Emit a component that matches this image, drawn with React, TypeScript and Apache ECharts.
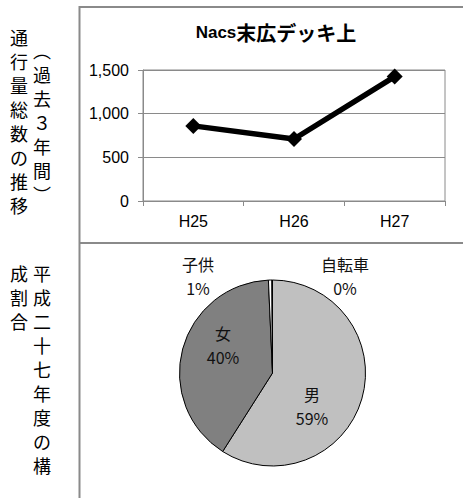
import React, { useEffect, useRef } from "react";
import * as echarts from "echarts";

// ---- data ----
const years = ["H25", "H26", "H27"];
const traffic = [860, 710, 1425];
const yMin = 0;
const yMax = 1500;
const yStep = 500;

const titleLatin = "Nacs";
const titleCjk = "末広デッキ上";

const pieNames = ["男", "女", "子供", "自転車"];
const pieShares = [59.0, 40.3, 0.6, 0.1];

const sideTopLeft = "通行量総数の推移";
const sideTopRight = "︵過去３年間︶";
const sideBottomLeft = "成割合";
const sideBottomRight = "平成二十七年度の構";

// ---- styling / layout ----
const CJK = "'Noto Sans CJK JP', 'Noto Sans', sans-serif";
const LATIN = "'Liberation Sans', Arial, 'Noto Sans CJK JP', sans-serif";
const frameColor = "#8a8a8a";
const pieColors = ["#c0c0c0", "#808080", "#ffffff", "#e0e0e0"];
const pieLabelPos: Record<string, [number, number]> = {
  男: [312, 406],
  女: [223, 345],
  子供: [198, 276],
  自転車: [345, 276],
};

function vertical(s: string) {
  return Array.from(s).join("\n");
}

export default function App() {
  const ref = useRef<HTMLDivElement>(null);

  useEffect(() => {
    if (!ref.current) return;
    const chart = echarts.init(ref.current, undefined, { renderer: "svg" });

    const vText = (x: number, y: number, s: string) => ({
      type: "text",
      x,
      y,
      style: {
        text: vertical(s),
        fontSize: 18,
        lineHeight: 24,
        fontFamily: CJK,
        fill: "#000",
        align: "center",
        verticalAlign: "top",
      },
    });

    chart.setOption({
      animation: false,
      backgroundColor: "#ffffff",
      grid: {
        left: 143,
        right: 18,
        top: 70,
        bottom: 297,
        show: true,
        borderColor: frameColor,
        borderWidth: 1,
      },
      xAxis: {
        type: "category",
        data: years,
        boundaryGap: true,
        axisLine: { lineStyle: { color: frameColor, width: 1 } },
        axisTick: { show: true, length: 5, lineStyle: { color: frameColor } },
        axisLabel: {
          color: "#000",
          fontSize: 16,
          fontFamily: LATIN,
          margin: 12,
        },
        splitLine: { show: false },
      },
      yAxis: {
        type: "value",
        min: yMin,
        max: yMax,
        interval: yStep,
        axisLine: { show: true, lineStyle: { color: frameColor, width: 1 } },
        axisTick: { show: true, length: 5, lineStyle: { color: frameColor } },
        axisLabel: {
          color: "#000",
          fontSize: 16,
          fontFamily: LATIN,
          margin: 14,
          formatter: (v: number) => v.toLocaleString("en-US"),
        },
        splitLine: { show: true, lineStyle: { color: frameColor, width: 1 } },
      },
      series: [
        {
          type: "line",
          data: traffic,
          symbol: "diamond",
          symbolSize: 16,
          lineStyle: { color: "#000", width: 5.5 },
          itemStyle: { color: "#000" },
          z: 5,
        },
        {
          type: "pie",
          center: [272.5, 373],
          radius: 93,
          startAngle: 90,
          clockwise: true,
          data: pieNames.map((n, i) => ({
            name: n,
            value: pieShares[i],
            itemStyle: { color: pieColors[i] },
          })),
          itemStyle: { borderColor: "#000", borderWidth: 1 },
          label: {
            show: true,
            position: "inside",
            formatter: (p: any) => `${p.name}\n${Math.round(p.percent)}%`,
            fontSize: 16,
            lineHeight: 24,
            fontFamily: CJK,
            color: "#111",
          },
          labelLine: { show: false },
          labelLayout: (p: any) => {
            const pos = pieLabelPos[pieNames[p.dataIndex]];
            return { x: pos[0], y: pos[1], align: "center", verticalAlign: "middle" };
          },
          emphasis: { disabled: true },
        },
      ],
      graphic: [
        {
          type: "line",
          shape: { x1: 79.5, y1: 6, x2: 79.5, y2: 498 },
          style: { stroke: frameColor, lineWidth: 2 },
        },
        {
          type: "line",
          shape: { x1: 79, y1: 7, x2: 463, y2: 7 },
          style: { stroke: frameColor, lineWidth: 2 },
        },
        {
          type: "line",
          shape: { x1: 79, y1: 243, x2: 463, y2: 243 },
          style: { stroke: frameColor, lineWidth: 2 },
        },
        {
          type: "text",
          x: 276,
          y: 32,
          style: {
            text: `{a|${titleLatin}}{b|${titleCjk}}`,
            align: "center",
            verticalAlign: "middle",
            rich: {
              a: { fontSize: 17, fontWeight: "bold", fontFamily: LATIN, fill: "#000" },
              b: { fontSize: 20, fontWeight: "bold", fontFamily: CJK, fill: "#000" },
            },
          },
        },
        vText(19, 25, sideTopLeft),
        vText(42, 38, sideTopRight),
        vText(19, 261, sideBottomLeft),
        vText(42, 261, sideBottomRight),
      ],
    });

    return () => chart.dispose();
  }, []);

  return (
    <div
      ref={ref}
      style={{ position: "fixed", left: 0, top: 0, width: 463, height: 498 }}
    />
  );
}
